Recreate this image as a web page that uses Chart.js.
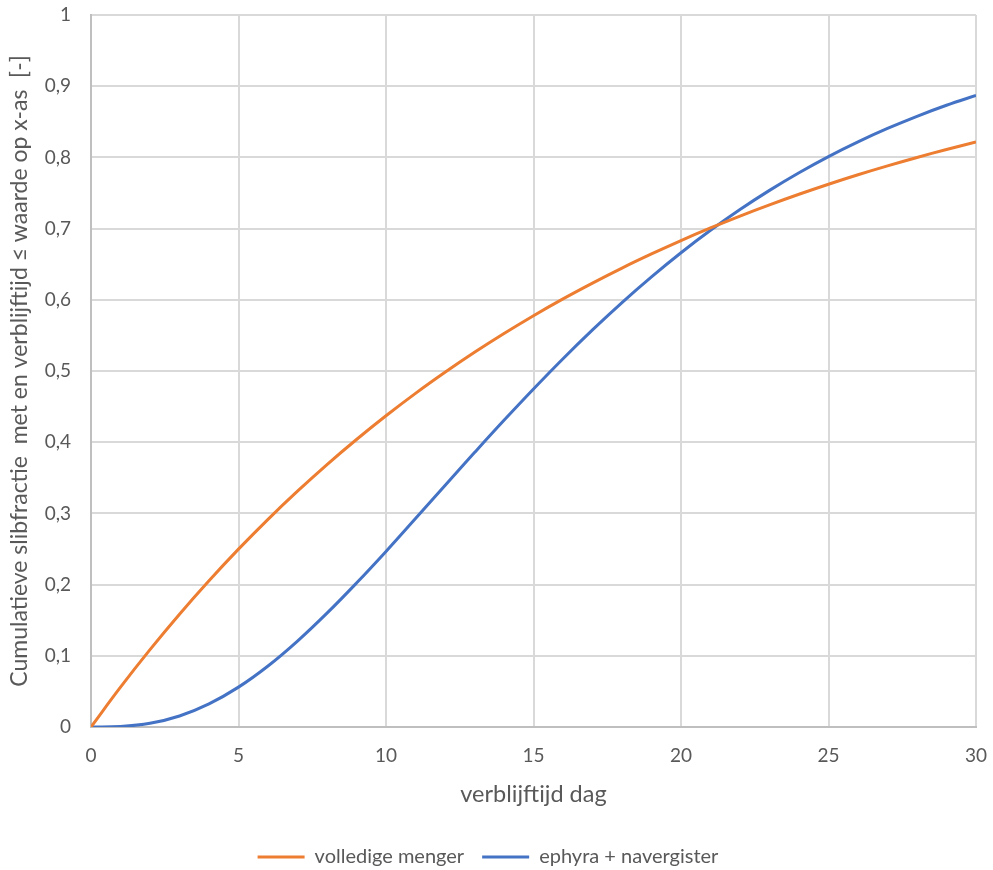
<!DOCTYPE html>
<html>
<head>
<meta charset="utf-8">
<script src="https://cdn.jsdelivr.net/npm/chart.js@4/dist/chart.umd.min.js"></script>
<style>
  html, body { margin: 0; padding: 0; background: #ffffff; overflow: hidden; }
  #wrap { width: 993px; height: 870px; position: relative; overflow: hidden; }
</style>
</head>
<body>
<div id="wrap"><canvas id="c" width="993" height="870"></canvas></div>
<script>
// Residence time in days
const days = [0,1,2,3,4,5,6,7,8,9,10,11,12,13,14,15,16,17,18,19,20,21,22,23,24,25,26,27,28,29,30];

// Cumulative sludge fraction, fully mixed digester
const volledigeMenger = [0,0.0559,0.1086,0.1584,0.2054,0.2498,0.2917,0.3312,0.3686,0.4038,0.4371,0.4686,0.4982,0.5263,0.5527,0.5777,0.6013,0.6235,0.6446,0.6644,0.6832,0.7009,0.7176,0.7333,0.7482,0.7623,0.7756,0.7881,0.7999,0.8111,0.8217];

// Cumulative sludge fraction, ephyra + post-digester
const ephyraNavergister = [0,0.0007,0.0052,0.0155,0.0325,0.0560,0.0857,0.1207,0.1599,0.2022,0.2466,0.2928,0.3393,0.3854,0.4307,0.4747,0.5172,0.5577,0.5961,0.6322,0.6661,0.6976,0.7268,0.7537,0.7785,0.8012,0.8218,0.8406,0.8577,0.8732,0.8870];

const seriesNames = ['volledige menger', 'ephyra + navergister'];
const xTitle = 'verblijftijd dag';
const yTitle = 'Cumulatieve slibfractie  met en verblijftijd \u2264 waarde op x-as  [-]';

const FONT = 'Lato, "Open Sans", sans-serif';
const TEXT = '#595959';

function toPoints(xs, ys) {
  return xs.map((x, i) => ({ x: x, y: ys[i] }));
}

new Chart(document.getElementById('c'), {
  type: 'line',
  data: {
    datasets: [
      {
        label: seriesNames[0],
        data: toPoints(days, volledigeMenger),
        borderColor: '#ED7D31',
        backgroundColor: '#ED7D31',
        borderWidth: 3,
        pointRadius: 0,
        tension: 0.4
      },
      {
        label: seriesNames[1],
        data: toPoints(days, ephyraNavergister),
        borderColor: '#4472C4',
        backgroundColor: '#4472C4',
        borderWidth: 3,
        pointRadius: 0,
        tension: 0.4
      }
    ]
  },
  options: {
    responsive: false,
    animation: false,
    layout: { padding: { top: 15, right: 17, left: 0, bottom: -7 } },
    plugins: {
      legend: {
        position: 'bottom',
        labels: {
          color: TEXT,
          font: { family: FONT, size: 20 },
          usePointStyle: true,
          pointStyle: 'line',
          pointStyleWidth: 47,
          padding: 18
        }
      },
      tooltip: { enabled: false }
    },
    scales: {
      x: {
        type: 'linear',
        min: 0,
        max: 30,
        ticks: {
          stepSize: 5,
          color: TEXT,
          font: { family: FONT, size: 19 },
          padding: 17
        },
        grid: { color: '#D9D9D9', lineWidth: 2, drawTicks: false },
        border: { color: '#BFBFBF', width: 2 },
        title: {
          display: true,
          text: xTitle,
          color: TEXT,
          font: { family: FONT, size: 23.5 },
          padding: { top: 0, bottom: 20 }
        },
        afterFit: function (s) {
          s.height = 102;
          s.paddingLeft = 0;
          s.paddingRight = 0;
        }
      },
      y: {
        min: 0,
        max: 1,
        ticks: {
          stepSize: 0.1,
          color: TEXT,
          font: { family: FONT, size: 19 },
          padding: 20,
          callback: function (v) { return String(Math.round(v * 10) / 10).replace('.', ','); }
        },
        grid: { color: '#D9D9D9', lineWidth: 2, drawTicks: false },
        border: { color: '#BFBFBF', width: 2 },
        title: {
          display: true,
          text: yTitle,
          color: TEXT,
          font: { family: FONT, size: 23 },
          padding: { top: 6, bottom: 0 }
        },
        afterFit: function (s) {
          s.width = 91;
          s.paddingTop = 0;
          s.paddingBottom = 0;
        }
      }
    }
  }
});
</script>
</body>
</html>
